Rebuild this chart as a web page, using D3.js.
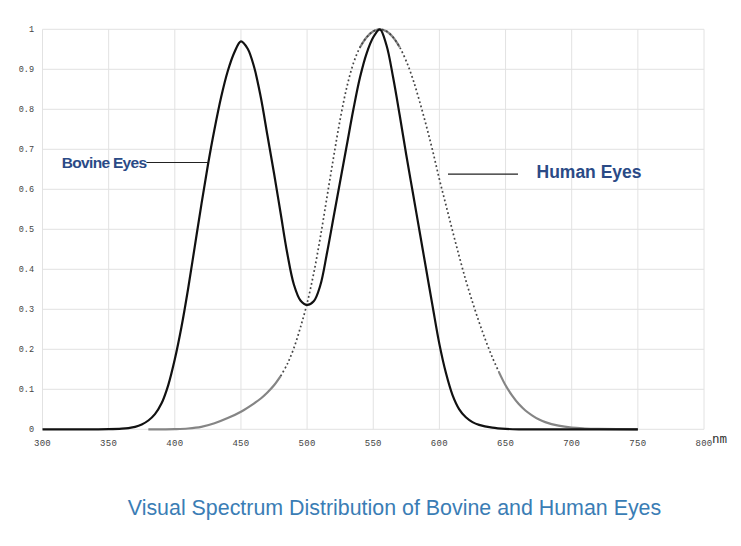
<!DOCTYPE html>
<html>
<head>
<meta charset="utf-8">
<script src="https://cdn.jsdelivr.net/npm/d3@7"></script>
<style>
  body { margin: 0; background: #fff; }
  svg { display: block; }
</style>
</head>
<body>
<div id="chart"></div>
<script>
// wavelength (nm) and relative sensitivity
const bovineNm = [300, 340, 350, 360, 365, 370, 375, 380, 385, 390, 395, 400, 405, 410, 415, 420, 425, 430, 435, 440, 445, 450,
    455, 460, 465, 470, 475, 480, 485, 490, 495, 500, 505, 510, 515, 520, 525, 530, 535, 540, 545, 550, 555,
    560, 565, 570, 575, 580, 585, 590, 595, 600, 605, 610, 615, 620, 625, 630, 640, 650, 660, 750];
const bovineVal = [0, 0, 0.0003, 0.0015, 0.003, 0.006, 0.012, 0.022, 0.038, 0.065, 0.11, 0.175, 0.255, 0.35, 0.455, 0.56, 0.66, 0.75, 0.83, 0.895, 0.942, 0.97,
    0.952, 0.905, 0.83, 0.735, 0.64, 0.54, 0.44, 0.362, 0.322, 0.311, 0.32, 0.36, 0.44, 0.53, 0.62, 0.71, 0.8, 0.88, 0.94, 0.98, 1.0,
    0.96, 0.88, 0.785, 0.685, 0.59, 0.495, 0.4, 0.305, 0.213, 0.14, 0.085, 0.05, 0.03, 0.018, 0.011, 0.004, 0.001, 0, 0];

const humanNm = [380, 390, 400, 410, 420, 430, 440, 450, 460, 465, 470, 475, 480, 485, 490, 495, 500, 505, 510, 515, 520, 525, 530,
    535, 540, 545, 550, 555, 560, 565, 570, 575, 580, 585, 590, 595, 600, 605, 610, 615, 620, 625, 630, 635, 640, 645,
    650, 655, 660, 665, 670, 675, 680, 690, 700, 710, 720, 750];
const humanVal = [0, 0, 0.0005, 0.002, 0.006, 0.015, 0.028, 0.044, 0.065, 0.077, 0.092, 0.11, 0.133, 0.163, 0.203, 0.255, 0.315, 0.39, 0.48, 0.58, 0.68, 0.775, 0.855,
    0.915, 0.955, 0.98, 0.995, 1.0, 0.995, 0.98, 0.955, 0.92, 0.875, 0.82, 0.76, 0.695, 0.625, 0.56, 0.495, 0.432, 0.372, 0.318, 0.268, 0.222, 0.18, 0.143,
    0.11, 0.084, 0.063, 0.047, 0.035, 0.025, 0.018, 0.009, 0.004, 0.002, 0.001, 0];

const xTicks = [300, 350, 400, 450, 500, 550, 600, 650, 700, 750, 800];
const yTicks = [0, 0.1, 0.2, 0.3, 0.4, 0.5, 0.6, 0.7, 0.8, 0.9, 1];
const yTickLabels = ['0', '0.1', '0.2', '0.3', '0.4', '0.5', '0.6', '0.7', '0.8', '0.9', '1'];

// callouts: text, leader line start/end (nm) and height
const labels = [
    {text: 'Bovine Eyes', from: 378.5, to: 425.3, value: 0.667},
    {text: 'Human Eyes', from: 606.5, to: 659.4, value: 0.638}
];

const width = 741;
const height = 546;

const svg = d3.select('#chart')
    .append('svg')
    .attr('width', width)
    .attr('height', height);

const x = d3.scaleLinear().domain([300, 800]).range([42.5, 704]);
const y = d3.scaleLinear().domain([0, 1]).range([429.3, 29.3]);

// grid
svg.append('g')
    .selectAll('line')
    .data(yTicks)
    .join('line')
    .attr('x1', x(300)).attr('x2', x(800))
    .attr('y1', d => y(d)).attr('y2', d => y(d))
    .attr('stroke', '#e2e2e2')
    .attr('stroke-width', 1);

svg.append('g')
    .selectAll('line')
    .data(xTicks)
    .join('line')
    .attr('x1', d => x(d)).attr('x2', d => x(d))
    .attr('y1', y(0)).attr('y2', y(1))
    .attr('stroke', '#e2e2e2')
    .attr('stroke-width', 1);

// tick labels
svg.append('g')
    .selectAll('text')
    .data(yTicks)
    .join('text')
    .attr('x', 34)
    .attr('y', d => y(d))
    .attr('dy', '0.35em')
    .attr('text-anchor', 'end')
    .style('font-family', '"Liberation Mono", "DejaVu Sans Mono", monospace')
    .style('font-size', '8.5px')
    .style('fill', '#444')
    .text((d, i) => yTickLabels[i]);

svg.append('g')
    .selectAll('text')
    .data(xTicks)
    .join('text')
    .attr('x', d => x(d))
    .attr('y', 445.5)
    .attr('text-anchor', 'middle')
    .style('font-family', '"Liberation Mono", "DejaVu Sans Mono", monospace')
    .style('font-size', '9px')
    .style('letter-spacing', '0.3px')
    .style('fill', '#444')
    .text(d => d);

svg.append('text')
    .attr('x', 712)
    .attr('y', 443)
    .style('font-family', '"DejaVu Sans Mono", monospace')
    .style('font-size', '12.5px')
    .style('fill', '#333')
    .text('nm');

const line = d3.line()
    .x(d => x(d[0]))
    .y(d => y(d[1]))
    .curve(d3.curveCatmullRom.alpha(0.5));

const bovine = bovineNm.map((d, i) => [d, bovineVal[i]]);
const human = humanNm.map((d, i) => [d, humanVal[i]]);

// human curve: solid grey where flat, dotted where steep
svg.append('path')
    .attr('d', line.defined(d => d[1] <= 0.15 || d[1] >= 0.95)(human))
    .attr('fill', 'none')
    .attr('stroke', '#858585')
    .attr('stroke-width', 2.2);

line.defined(() => true);

svg.append('path')
    .attr('d', line(human.filter(d => d[1] >= 0.13)))
    .attr('fill', 'none')
    .attr('stroke', '#444')
    .attr('stroke-width', 1.7)
    .attr('stroke-dasharray', '1.8,2.6');

svg.append('path')
    .attr('d', line(bovine))
    .attr('fill', 'none')
    .attr('stroke', '#111')
    .attr('stroke-width', 2.2);

// callouts
labels.forEach(l => {
    svg.append('line')
        .attr('x1', x(l.from)).attr('x2', x(l.to))
        .attr('y1', y(l.value)).attr('y2', y(l.value))
        .attr('stroke', '#222')
        .attr('stroke-width', 1.2);
});

svg.append('text')
    .attr('x', x(labels[0].from))
    .attr('y', y(labels[0].value) + 5)
    .attr('text-anchor', 'end')
    .style('font-family', '"Liberation Sans", Arial, sans-serif')
    .style('font-weight', 'bold')
    .style('font-size', '15.5px')
    .style('letter-spacing', '-0.7px')
    .style('fill', '#2a4a86')
    .text(labels[0].text);

svg.append('text')
    .attr('x', 536.5)
    .attr('y', y(labels[1].value) + 3.5)
    .style('font-family', '"Liberation Sans", Arial, sans-serif')
    .style('font-weight', 'bold')
    .style('font-size', '17.5px')
    .style('fill', '#2a4a86')
    .text(labels[1].text);

svg.append('text')
    .attr('x', 394.5)
    .attr('y', 514.5)
    .attr('text-anchor', 'middle')
    .style('font-family', '"Liberation Sans", Arial, sans-serif')
    .style('font-size', '21.4px')
    .style('fill', '#3a7db5')
    .text('Visual Spectrum Distribution of Bovine and Human Eyes');
</script>
</body>
</html>
